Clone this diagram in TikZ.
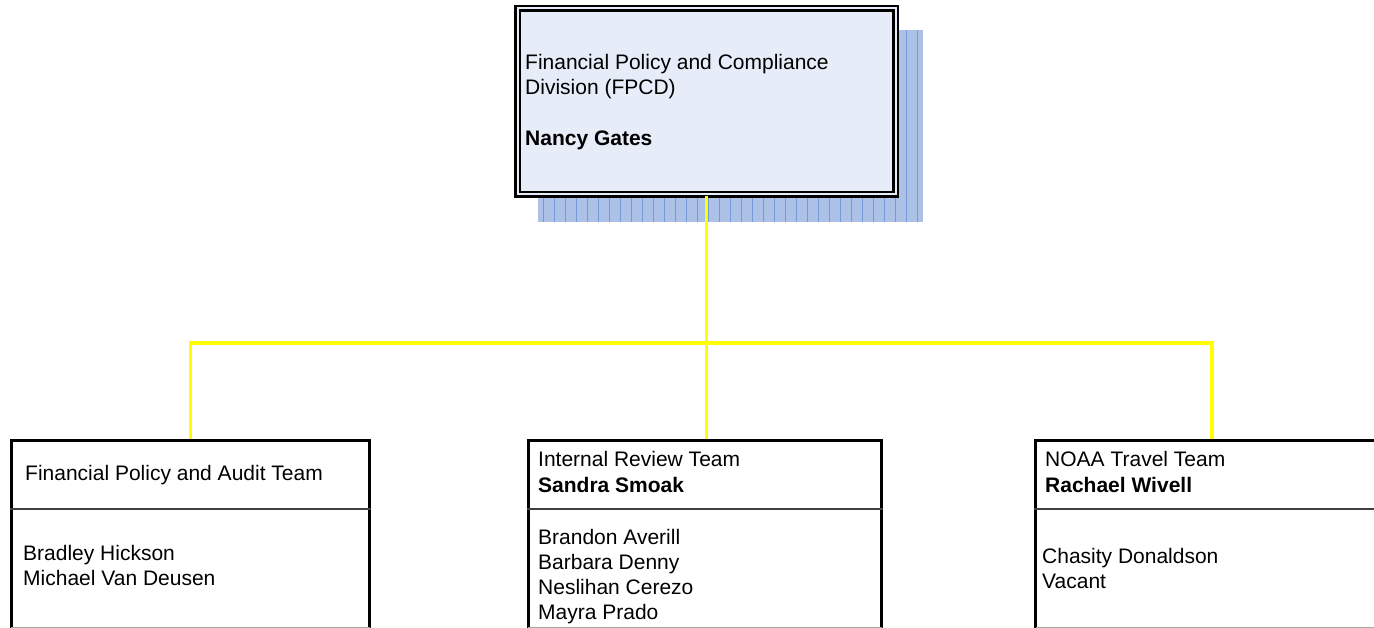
\documentclass[tikz,border=0pt]{standalone}
\usepackage{fontspec}
\setmainfont{Liberation Sans}
\definecolor{topfill}{HTML}{E6ECF8}
\definecolor{shadowfill}{HTML}{ACC1E5}
\definecolor{shadowline}{HTML}{7399D8}
\definecolor{busyellow}{HTML}{FFFF00}
\definecolor{divgray}{HTML}{404040}
\tikzset{
  txt/.style={anchor=base west, inner sep=0pt, font=\fontsize{21}{25}\selectfont},
  bold/.style={txt, font=\fontsize{21}{25}\selectfont\bfseries},
  topbox/.style={draw=black, line width=2.5pt, double=topfill, double distance=2pt, fill=topfill, inner sep=0pt, minimum width=378pt, minimum height=186pt},
  teambox/.style={draw=black, line width=3pt, fill=white, inner sep=0pt, minimum height=206pt, anchor=north},
  divider/.style={draw=divgray, line width=2pt},
  bus/.style={draw=busyellow, line width=3.3pt},
}
\begin{document}
\begin{tikzpicture}[x=1pt,y=-1pt]
\useasboundingbox (0,0) rectangle (1374,628);
\clip (0,0) rectangle (1374,628);
% shadow
\fill[shadowfill] (538,30) rectangle (923,222);
\foreach \x in {543,554,...,923} \draw[shadowline, line width=0.8pt] (\x,30) -- (\x,222);
% top box
\node[topbox] (top) at (706.5,101.5) {};
\node[txt] (t1) at (525,70) {Financial Policy and Compliance};
\node[txt] (t2) at (525,94.7) {Division (FPCD)};
\node[bold] (t3) at (525,145.5) {Nancy Gates};
% team boxes
\node[teambox, minimum width=358pt] (box1) at (190.5,438.5) {};
\node[teambox, minimum width=353pt] (box2) at (705,438.5) {};
\node[teambox, minimum width=353pt] (box3) at (1212,438.5) {};
\draw[divider] (box1.west |- 0,509) -- (box1.east |- 0,509);
\draw[divider] (box2.west |- 0,509) -- (box2.east |- 0,509);
\draw[divider] (box3.west |- 0,509) -- (box3.east |- 0,509);
\draw[gray!70, line width=1pt] (11,627.5) -- (370,627.5);
\draw[gray!70, line width=1pt] (528,627.5) -- (882,627.5);
\draw[gray!70, line width=1pt] (1036,627.5) -- (1374,627.5);
% texts box1
\node[txt] (a1) at (25,480) {Financial Policy and Audit Team};
\node[txt] (a2) at (23,560) {Bradley Hickson};
\node[txt] (a3) at (23,585.7) {Michael Van Deusen};
% texts box2
\node[txt] (b1) at (538,466.7) {Internal Review Team};
\node[bold] (b2) at (538,492.7) {Sandra Smoak};
\node[txt] (b3) at (538,544) {Brandon Averill};
\node[txt] (b4) at (538,569.3) {Barbara Denny};
\node[txt] (b5) at (538,594.7) {Neslihan Cerezo};
\node[txt] (b6) at (538,619.3) {Mayra Prado};
% texts box3
\node[txt] (c1) at (1045,466.7) {NOAA Travel Team};
\node[bold] (c2) at (1045,492.7) {Rachael Wivell};
\node[txt] (c3) at (1042,563.3) {Chasity Donaldson};
\node[txt] (c4) at (1042,588.3) {Vacant};
% connectors
\coordinate (j) at (706.5,343);
\draw[bus] (top.south) -- (j);
\draw[bus] (box1.north) |- (j) -| (box3.north);
\draw[bus] (j) -- (j |- box2.north);
\end{tikzpicture}
\end{document}
